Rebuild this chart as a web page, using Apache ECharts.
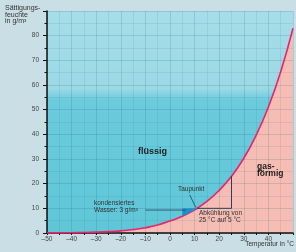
<!DOCTYPE html>
<html>
<head>
<meta charset="utf-8">
<script src="https://cdn.jsdelivr.net/npm/echarts@6/dist/echarts.min.js"></script>
<style>
  html, body { margin: 0; padding: 0; background: #c9dfe5; }
  #main { width: 296px; height: 252px; }
</style>
</head>
<body>
<div id="main"></div>
<script>
// Sättigungsfeuchte der Luft in Abhängigkeit der Temperatur
var temps = [-50, -45, -40, -35, -30, -25, -20, -15, -10, -5, 0, 5, 10, 15, 20, 25, 30, 35, 40, 45, 50];
var saturation = [0.04, 0.07, 0.12, 0.2, 0.34, 0.55, 0.88, 1.4, 2.14, 3.25, 4.85, 6.8, 9.4, 12.8, 17.3, 23.0, 30.3, 39.6, 51.1, 65.4, 83.0];

// Abkühlung von 25 °C auf 5 °C
var coolingPath = [[25, 23.0], [25, 10], [11, 10]];
var condensed = [[5, 10], [11, 10], [9, 8.8], [7, 7.75], [5, 6.8]];
var condensedPointer = [[-10, 9.3], [6.5, 9.3]];
var dewPointer = [[8, 15.5], [10.5, 10.3]];

var curve = temps.map(function (t, i) { return [t, saturation[i]]; });

var font = 'Liberation Sans, Arial, sans-serif';
var textColor = '#333';
var lineColor = '#2b3f5c';

var myChart = echarts.init(document.getElementById('main'));
myChart.setOption({
    backgroundColor: '#c9dfe5',
    animation: false,
    grid: {
        left: 47, right: 0, top: 11, bottom: 19,
        show: true,
        borderWidth: 0,
        backgroundColor: new echarts.graphic.LinearGradient(0, 0, 0, 1, [
            { offset: 0, color: '#a6dde8' },
            { offset: 0.35, color: '#9cd9e5' },
            { offset: 0.40, color: '#6ccbdc' },
            { offset: 1, color: '#5fc6d8' }
        ])
    },
    xAxis: {
        type: 'value',
        min: -50, max: 50, interval: 10,
        z: 3,
        axisLine: { lineStyle: { color: '#111', width: 1.5 } },
        axisTick: { show: true, length: 2, lineStyle: { color: '#111' } },
        minorTick: { show: true, splitNumber: 2, length: 2, lineStyle: { color: '#111' } },
        axisLabel: {
            fontSize: 6.5, color: '#444', fontFamily: font, margin: 3,
            formatter: function (v) { return v === 50 ? '' : String(v).replace('-', '–'); }
        },
        splitLine: { show: true, lineStyle: { color: 'rgba(0,70,100,0.14)', width: 1 } },
        minorSplitLine: { show: true, lineStyle: { color: 'rgba(0,70,100,0.08)', width: 1 } }
    },
    yAxis: {
        type: 'value',
        min: 0, max: 90, interval: 10,
        z: 3,
        axisLine: { show: true, onZero: false, lineStyle: { color: '#111', width: 1.5 } },
        axisTick: { show: true, length: 4, lineStyle: { color: '#111' } },
        minorTick: { show: true, splitNumber: 2, length: 2.5, lineStyle: { color: '#111' } },
        axisLabel: {
            fontSize: 6.5, color: '#444', fontFamily: font, margin: 8,
            formatter: function (v) { return v === 90 ? '' : v; }
        },
        splitLine: { show: true, lineStyle: { color: 'rgba(0,70,100,0.14)', width: 1 } },
        minorSplitLine: { show: true, lineStyle: { color: 'rgba(0,70,100,0.08)', width: 1 } }
    },
    series: [
        {   // gasförmig (unter der Kurve)
            type: 'line',
            data: curve,
            smooth: true,
            symbol: 'none',
            z: 1,
            lineStyle: { width: 0 },
            areaStyle: { color: '#f5bdb4', opacity: 1 }
        },
        {   // Sättigungskurve
            type: 'line',
            data: curve,
            smooth: true,
            symbol: 'none',
            z: 10,
            lineStyle: { color: '#e8246c', width: 1.6 }
        },
        {   // kondensiertes Wasser
            type: 'custom',
            z: 11,
            data: [0],
            renderItem: function (params, api) {
                return {
                    type: 'polygon',
                    shape: { points: condensed.map(function (p) { return api.coord(p); }) },
                    style: { fill: '#1c90c8' }
                };
            }
        },
        {
            type: 'line', data: coolingPath, symbol: 'none', z: 12,
            lineStyle: { color: lineColor, width: 1 }
        },
        {
            type: 'line', data: condensedPointer, symbol: 'none', z: 12,
            lineStyle: { color: lineColor, width: 0.8 }
        },
        {
            type: 'line', data: dewPointer, symbol: 'none', z: 12,
            lineStyle: { color: lineColor, width: 0.8 }
        }
    ],
    graphic: [
        { type: 'text', left: 5, top: 5, z: 20, style: { text: 'Sättigungs-\nfeuchte\nin g/m³', fontSize: 7, lineHeight: 6.5, fill: textColor, fontFamily: font } },
        { type: 'text', right: 2, top: 241, z: 20, style: { text: 'Temperatur in °C', fontSize: 6.5, fill: textColor, fontFamily: font } },
        { type: 'text', left: 138, top: 147, z: 20, style: { text: 'flüssig', fontSize: 9, fontWeight: 'bold', fill: '#222', fontFamily: font } },
        { type: 'text', left: 257, top: 162, z: 20, style: { text: 'gas-\nförmig', fontSize: 8.5, lineHeight: 7.5, fontWeight: 'bold', fill: '#222', fontFamily: font } },
        { type: 'text', left: 178, top: 186, z: 20, style: { text: 'Taupunkt', fontSize: 6.5, fill: textColor, fontFamily: font } },
        { type: 'text', left: 94, top: 200, z: 20, style: { text: 'kondensiertes\nWasser: 3 g/m³', fontSize: 6.5, lineHeight: 7, fill: textColor, fontFamily: font } },
        { type: 'text', left: 199, top: 210, z: 20, style: { text: 'Abkühlung von\n25 °C auf 5 °C', fontSize: 6.5, lineHeight: 6.5, fill: textColor, fontFamily: font } }
    ]
});
</script>
</body>
</html>
